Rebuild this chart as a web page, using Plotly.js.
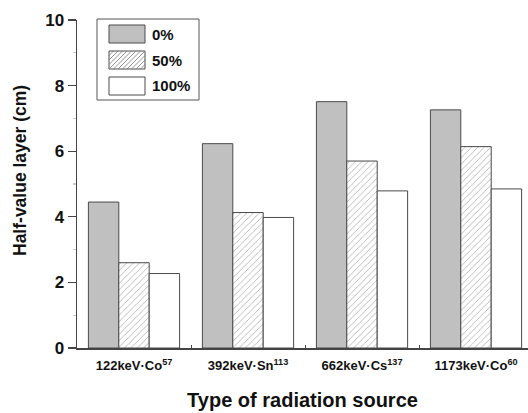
<!DOCTYPE html>
<html>
<head>
<meta charset="utf-8">
<script src="https://cdn.plot.ly/plotly-3.0.1.min.js"></script>
<style>html,body{margin:0;padding:0;background:#fff;}#chart{width:528px;height:413px;}</style>
</head>
<body>
<div id="chart"></div>
<script>
// ---- data ----
const categories = ['122keV·Co<sup>57</sup>', '392keV·Sn<sup>113</sup>', '662keV·Cs<sup>137</sup>', '1173keV·Co<sup>60</sup>'];
const seriesNames = ['0%', '50%', '100%'];
const values0 = [4.45, 6.23, 7.51, 7.26];
const values50 = [2.60, 4.13, 5.70, 6.14];
const values100 = [2.27, 3.98, 4.79, 4.85];
const yTicks = [0, 2, 4, 6, 8, 10];
const xTitle = 'Type of radiation source';
const yTitle = 'Half-value layer (cm)';

const FONT = 'Liberation Sans, Arial, sans-serif';
const W = 528, H = 413;
const M = {l: 77, r: 0, t: 20, b: 65};
const pw = W - M.l - M.r, ph = H - M.t - M.b;
const px = x => (x - M.l) / pw;
const py = y => (H - M.b - y) / ph;

const outline = {color: '#4a4a4a', width: 1};
const traces = [
  {type: 'bar', name: seriesNames[0], x: categories, y: values0,
   marker: {color: '#c0c0c0', line: outline}},
  {type: 'bar', name: seriesNames[1], x: categories, y: values50,
   marker: {color: '#ffffff', line: outline,
            pattern: {shape: '/', size: 4.5, solidity: 0.2, fgcolor: '#6a6a6a', bgcolor: '#ffffff', fillmode: 'overlay'}}},
  {type: 'bar', name: seriesNames[2], x: categories, y: values100,
   marker: {color: '#ffffff', line: outline}}
];

// ---- custom legend (wide swatches as in the reference) ----
const shapes = [];
const annotations = [];
shapes.push({type: 'rect', xref: 'paper', yref: 'paper', x0: px(97), x1: px(199), y0: py(100), y1: py(19),
             line: {color: '#555', width: 1}, fillcolor: 'rgba(0,0,0,0)'});
const swX0 = 109, swX1 = 145;
const rows = [[25, 43], [51, 69], [77, 95]];
const fills = ['#c0c0c0', '#ffffff', '#ffffff'];
rows.forEach((r, i) => {
  const [y0, y1] = r;
  shapes.push({type: 'rect', xref: 'paper', yref: 'paper', x0: px(swX0), x1: px(swX1), y0: py(y1), y1: py(y0),
               line: {color: '#4a4a4a', width: 1}, fillcolor: fills[i]});
  if (i === 1) {
    const h = y1 - y0;
    for (let k = -h; k < swX1 - swX0; k += 4.5) {
      let xa = swX0 + k, ya = y1, xb = swX0 + k + h, yb = y0;
      if (xa < swX0) { ya = y1 - (swX0 - xa); xa = swX0; }
      if (xb > swX1) { yb = y0 + (xb - swX1); xb = swX1; }
      if (xb <= xa) continue;
      shapes.push({type: 'line', xref: 'paper', yref: 'paper', x0: px(xa), y0: py(ya), x1: px(xb), y1: py(yb),
                   line: {color: '#777', width: 0.8}});
    }
  }
  annotations.push({xref: 'paper', yref: 'paper', x: px(150), y: py((y0 + y1) / 2), xanchor: 'left', yanchor: 'middle',
                    text: seriesNames[i], showarrow: false, font: {family: FONT, size: 15, color: '#111', weight: 'bold'}});
});

// y-axis title placed as in the reference (slightly above plot centre)
annotations.push({xref: 'paper', yref: 'paper', x: px(20), y: py(171), xanchor: 'center', yanchor: 'middle',
                  textangle: -90, text: yTitle, showarrow: false,
                  font: {family: FONT, size: 17.5, color: '#111', weight: 'bold'}});

const layout = {
  width: W, height: H,
  margin: M,
  paper_bgcolor: '#fff', plot_bgcolor: '#fff',
  showlegend: false,
  barmode: 'group', bargap: 0.2, bargroupgap: 0,
  font: {family: FONT, color: '#111'},
  xaxis: {
    type: 'category', range: [-0.5, 3.456],
    showline: true, linecolor: '#444', linewidth: 1.5,
    ticks: 'inside', ticklen: 3, tickcolor: '#444', tickson: 'boundaries',
    tickfont: {family: FONT, size: 13, weight: 'bold', color: '#111'},
    ticklabelstandoff: 5,
    showgrid: false, zeroline: false,
    title: {text: xTitle, font: {family: FONT, size: 20, weight: 'bold', color: '#111'}, standoff: 21}
  },
  yaxis: {
    range: [0, 10], tickvals: yTicks, ticktext: yTicks.map(String),
    showline: true, linecolor: '#444', linewidth: 1.5,
    ticks: 'outside', ticklen: 8, tickcolor: '#444', tickwidth: 1.2,
    minor: {dtick: 1, ticks: 'outside', ticklen: 3, tickcolor: '#ccc', showgrid: false},
    tickfont: {family: FONT, size: 17, weight: 'bold', color: '#111'},
    ticklabelstandoff: 0,
    showgrid: false, zeroline: false
  },
  shapes: shapes,
  annotations: annotations
};

Plotly.newPlot('chart', traces, layout, {staticPlot: true, displayModeBar: false});
</script>
</body>
</html>
